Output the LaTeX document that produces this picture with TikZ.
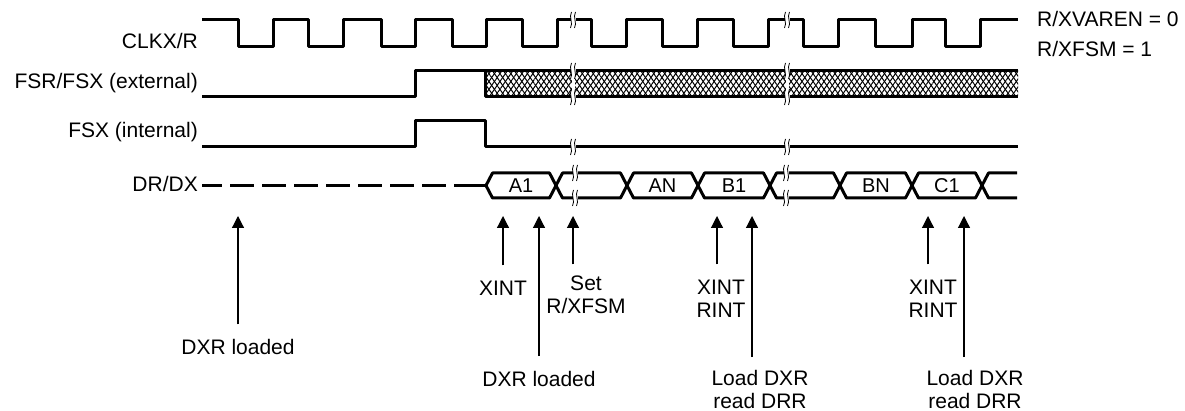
\documentclass[tikz,border=0pt]{standalone}
\usepackage{fontspec}
\setmainfont{Liberation Sans}
\usetikzlibrary{arrows.meta,patterns.meta}

\newcommand{\sigbreak}[2]{%
  \fill[white] (#1-2.5,#2-3.5) rectangle (#1+2.5,#2+3.5);
  \draw[brkline] (#1-1.5,#2-8) .. controls (#1-4.5,#2-3) and (#1+0.5,#2+3) .. (#1-2.5,#2+8);
  \draw[brkline] (#1+2.5,#2-8) .. controls (#1-0.5,#2-3) and (#1+4.5,#2+3) .. (#1+1.5,#2+8);
}

\begin{document}
\begin{tikzpicture}[x=1pt,y=-1pt,
    sig/.style={line width=3pt, line join=round},
    brkline/.style={line width=0.8pt},
    lbl/.style={font=\fontsize{21}{23}\selectfont, inner sep=0pt},
    cell/.style={font=\fontsize{20}{24}\selectfont, inner sep=0pt},
    evarrow/.style={-{Triangle[length=12pt,width=12pt]}, line width=1.2pt, shorten <=15pt}]
    \useasboundingbox (0,0) rectangle (1185,411);

    \node[lbl, anchor=east] (clk) at (198,41) {CLKX/R};
    \node[lbl, anchor=east] (fsext) at (198,83) {FSR/FSX (external)};
    \node[lbl, anchor=east] (fsint) at (198,132) {FSX (internal)};
    \node[lbl, anchor=east] (data) at (198,184) {DR/DX};
    \node[lbl, anchor=west] (varen) at (1037,19) {R/XVAREN = 0};
    \node[lbl, anchor=west] (fsm) at (1037,49) {R/XFSM = 1};

    \draw[sig] (202,20) \foreach \f/\r in {238/273, 308/343, 381/415, 452/486, 522/557,
        591/626, 662/697, 733/768, 803/838, 875/912, 945/980}
        { -- (\f,20) -- (\f,47) -- (\r,47) -- (\r,20) } -- (1018,20);

    \fill[pattern={Lines[angle=55,distance=4.5pt,line width=1pt]}] (485,71) rectangle (1018,97);
    \fill[pattern={Lines[angle=-55,distance=4.5pt,line width=1pt]}] (485,71) rectangle (1018,97);
    \fill[white] (571.5,71) rectangle (574.5,97);
    \fill[white] (785.5,71) rectangle (788.5,97);
    \draw[sig] (202,97) -- (415,97) -- (415,71) -- (1018,71);
    \draw[sig] (485,71) -- (485,97) -- (1018,97);

    \draw[sig] (202,147) -- (415,147) -- (415,121) -- (485,121) -- (485,147) -- (1018,147);

    \draw[sig, dash pattern=on 24pt off 8pt, dash phase=4pt] (202,185.5) -- (478,185.5);
    \draw[sig] (478,185.5) -- (486,185.5);
    \foreach \a/\b in {486/556, 556/627, 627/698, 698/770, 770/840, 840/912, 912/982}
        \draw[sig] (\a,185.5) -- (\a+6.5,173) -- (\b-6.5,173) -- (\b,185.5)
            -- (\b-6.5,198) -- (\a+6.5,198) -- cycle;
    \draw[sig] (1017,173) -- (988.5,173) -- (982,185.5) -- (988.5,198) -- (1017,198);
    \node[cell] (a1) at (521,186) {A1};
    \node[cell] (an) at (662.5,186) {AN};
    \node[cell] (b1) at (734,186) {B1};
    \node[cell] (bn) at (876,186) {BN};
    \node[cell] (c1) at (947,186) {C1};

    \sigbreak{573}{20}
    \sigbreak{787}{20}
    \sigbreak{573}{71}
    \sigbreak{573}{97}
    \sigbreak{787}{71}
    \sigbreak{787}{97}
    \sigbreak{573}{147}
    \sigbreak{787}{147}
    \sigbreak{575}{173}
    \sigbreak{575}{198}
    \sigbreak{786}{173}
    \sigbreak{786}{198}

    \coordinate (t0) at (238,216);
    \coordinate (t1) at (503,216);
    \coordinate (t2) at (539,216);
    \coordinate (t3) at (573,216);
    \coordinate (t4) at (717,216);
    \coordinate (t5) at (752,216);
    \coordinate (t6) at (928,216);
    \coordinate (t7) at (964,216);

    \node[lbl, anchor=north] (dxr0) at (238,339.5) {DXR loaded};
    \node[lbl, anchor=north] (xint0) at (503,280.5) {XINT};
    \node[lbl, anchor=north] (dxr1) at (539,371) {DXR loaded};
    \node[lbl, anchor=north, align=center] (setfsm) at (586,275.5) {Set\\R/XFSM};
    \node[lbl, anchor=north, align=center] (xr1) at (721,279.5) {XINT\\RINT};
    \node[lbl, anchor=north, align=center] (ld1) at (760,370) {Load DXR\\read DRR};
    \node[lbl, anchor=north, align=center] (xr2) at (933,279.5) {XINT\\RINT};
    \node[lbl, anchor=north, align=center] (ld2) at (975,370) {Load DXR\\read DRR};

    \draw[evarrow] (dxr0.north -| t0) -- (t0);
    \draw[evarrow] (xint0.north -| t1) -- (t1);
    \draw[evarrow] (dxr1.north -| t2) -- (t2);
    \draw[evarrow, shorten <=11pt] (setfsm.north -| t3) -- (t3);
    \draw[evarrow] (xr1.north -| t4) -- (t4);
    \draw[evarrow, shorten <=13pt] (ld1.north -| t5) -- (t5);
    \draw[evarrow] (xr2.north -| t6) -- (t6);
    \draw[evarrow, shorten <=13pt] (ld2.north -| t7) -- (t7);
\end{tikzpicture}
\end{document}
